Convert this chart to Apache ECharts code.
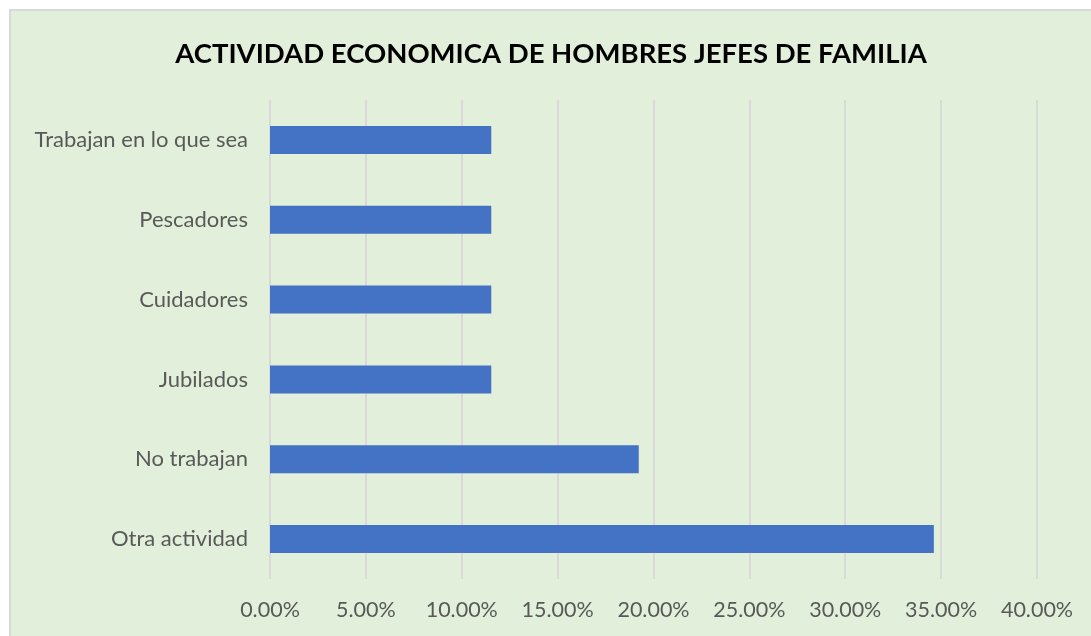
<!DOCTYPE html>
<html>
<head>
<meta charset="utf-8">
<script src="https://cdn.jsdelivr.net/npm/echarts@6/dist/echarts.min.js"></script>
<style>
  html, body { margin: 0; padding: 0; background: #ffffff; }
  #chart {
    position: absolute; left: 9px; top: 9px;
    width: 1080px; height: 625px;
    border: 2px solid #d9d9d9; background: #e2efda;
  }
</style>
</head>
<body>
<div id="chart"></div>
<script>
const categories = ['Otra actividad', 'No trabajan', 'Jubilados', 'Cuidadores', 'Pescadores', 'Trabajan en lo que sea'];
const values = [0.3462, 0.1923, 0.1154, 0.1154, 0.1154, 0.1154];
const axisMax = 0.4;
const axisStep = 0.05;

const getOptionChart = () => {
  return {
    backgroundColor: '#e2efda',
    title: {
      text: 'ACTIVIDAD ECONOMICA DE HOMBRES JEFES DE FAMILIA',
      left: 'center',
      top: 24,
      textStyle: { fontFamily: 'Lato', fontWeight: 'bold', fontSize: 27.5, color: '#000000' }
    },
    grid: { left: 259, right: 54, top: 89, bottom: 57 },
    xAxis: {
      type: 'value',
      min: 0,
      max: axisMax,
      interval: axisStep,
      axisLine: { show: false },
      axisTick: { show: false },
      splitLine: { lineStyle: { color: '#d9d9d9', width: 2 } },
      axisLabel: {
        margin: 20,
        fontFamily: 'Lato', fontSize: 21.5, color: '#595959',
        formatter: v => (v * 100).toFixed(2) + '%'
      }
    },
    yAxis: {
      type: 'category',
      data: categories,
      axisLine: { show: false },
      axisTick: { show: false },
      axisLabel: { margin: 22, fontFamily: 'Lato', fontSize: 22, color: '#595959' }
    },
    series: [{
      type: 'bar',
      data: values,
      barWidth: 28,
      itemStyle: { color: '#4472c4' }
    }]
  };
};

const chart = echarts.init(document.querySelector('#chart'));
chart.setOption(getOptionChart());
</script>
</body>
</html>
